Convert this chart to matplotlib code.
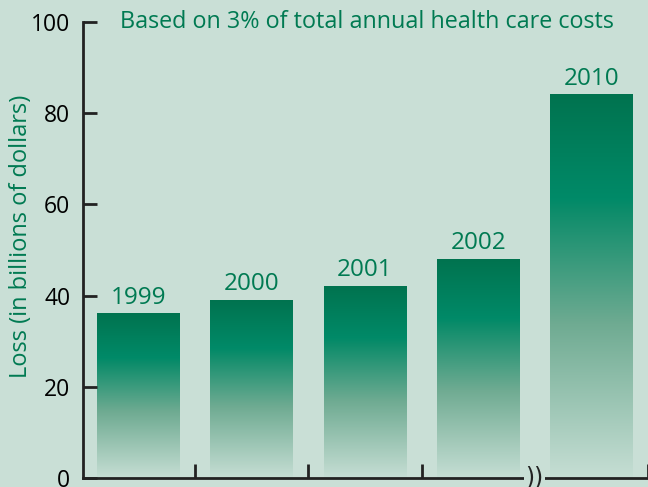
import numpy as np
import matplotlib.pyplot as plt
from matplotlib.colors import LinearSegmentedColormap

# data
years = ['1999', '2000', '2001', '2002', '2010']
loss = [36, 39, 42, 48, 84]
yticks = [0, 20, 40, 60, 80, 100]

bg = '#c9dfd6'
green = '#007a52'

# gradient for the bars (bottom -> top)
cmap = LinearSegmentedColormap.from_list('bar', [
    (0.0, '#c6ded4'),
    (0.40, '#6fab92'),
    (0.70, '#0c8c6a'),
    (0.73, '#008a68'),
    (1.0, '#00734f'),
])

fig = plt.figure(figsize=(6.48, 4.87), dpi=100, facecolor=bg)
ax = fig.add_axes([0.128, 0.0185, 0.872, 0.9365])
ax.set_facecolor(bg)

x = np.arange(len(years))
bars = ax.bar(x, loss, width=0.73, color='none', edgecolor='none')

grad = np.linspace(0, 1, 256).reshape(-1, 1)
for b, yr in zip(bars, years):
    x0, y0 = b.get_x(), b.get_y()
    w, h = b.get_width(), b.get_height()
    ax.imshow(grad, cmap=cmap, origin='lower', aspect='auto',
              extent=[x0, x0 + w, y0, y0 + h], zorder=1)
    ax.text(x0 + w / 2, h + 0.9, yr, ha='center', va='bottom',
            fontsize=17.5, color=green, family='Open Sans')

ax.set_xlim(-0.49, 4.5)
ax.set_ylim(0, 100)

ax.set_yticks(yticks)
ax.set_yticklabels([str(v) for v in yticks], fontsize=16.5, family='Open Sans')
ax.set_xticks([0.5, 1.5, 2.5, 4.5])
ax.set_xticklabels([])
ax.tick_params(axis='y', direction='in', length=10, width=2, color='#222222', pad=9)
ax.tick_params(axis='x', direction='in', length=10, width=2, color='#222222')

for s in ['top', 'right']:
    ax.spines[s].set_visible(False)
for s in ['left', 'bottom']:
    ax.spines[s].set_linewidth(2)
    ax.spines[s].set_color('#222222')
    ax.spines[s].set_zorder(5)

# axis break marks
ax.text(3.5, 0, '))', ha='center', va='center', fontsize=17, color='#222222',
        zorder=6, clip_on=False,
        bbox=dict(boxstyle='square,pad=0.05', fc=bg, ec='none'))

ax.set_ylabel('Loss (in billions of dollars)', fontsize=17, color=green,
              family='Open Sans', va='top')
ax.yaxis.set_label_coords(-0.131, 0.53)

ax.text(-0.16, 100, 'Based on 3% of total annual health care costs',
        fontsize=16.8, color=green, family='Open Sans', va='center', ha='left',
        transform=ax.transData)

plt.savefig('out.png', dpi=100, facecolor=bg)
